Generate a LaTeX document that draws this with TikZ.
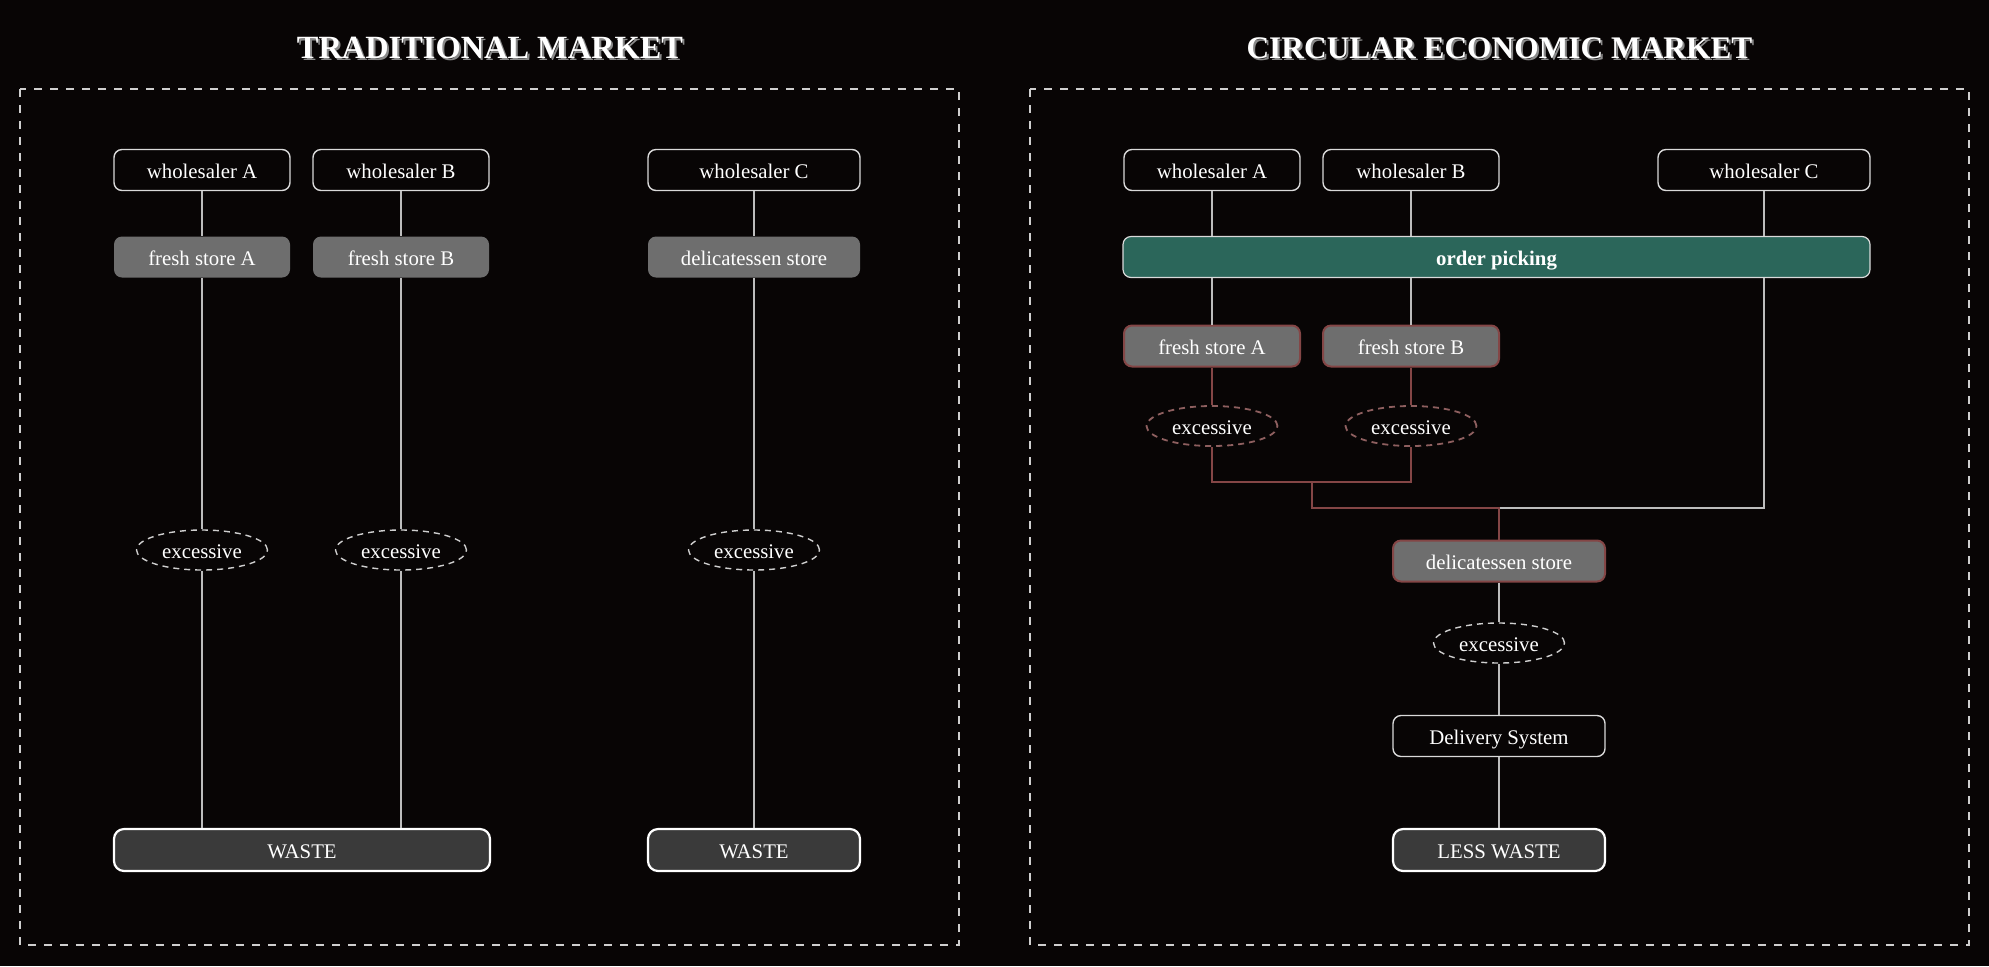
\documentclass[tikz,border=0pt]{standalone}
\usepackage{fontspec}
\setmainfont{Liberation Serif}
\usetikzlibrary{shapes.geometric}
\definecolor{bgc}{HTML}{080505}
\definecolor{linec}{HTML}{BDBDBD}
\definecolor{boxc}{HTML}{DADADA}
\definecolor{freshc}{HTML}{6E6E6E}
\definecolor{wastec}{HTML}{3A3A3A}
\definecolor{tealc}{HTML}{2B665A}
\definecolor{redc}{HTML}{844646}
\definecolor{redd}{HTML}{8E5F5F}
\definecolor{dashc}{HTML}{CFCFCF}
\definecolor{shadc}{HTML}{8A8A8A}
\begin{document}
\begin{tikzpicture}[x=0.5pt,y=-0.5pt,
 every node/.style={font=\fontsize{10.4}{12}\selectfont, text=white, inner sep=0pt, text height=8.1pt, text depth=0pt},
 wbox/.style={draw=boxc, line width=0.7pt, rounded corners=4pt, fill=bgc, minimum height=20.5pt, minimum width=88pt},
 wboxw/.style={wbox, minimum width=106pt},
 fbox/.style={fill=freshc, rounded corners=4pt, minimum height=20.5pt, minimum width=88pt},
 fboxw/.style={fbox, minimum width=106pt},
 fboxr/.style={fbox, draw=redc, line width=1pt},
 fboxrw/.style={fboxr, minimum width=106pt},
 exc/.style={ellipse, draw=dashc, dash pattern=on 3pt off 2.5pt, line width=0.7pt, fill=bgc, minimum width=65.5pt, minimum height=20pt},
 excr/.style={exc, draw=redd, line width=0.9pt},
 wastebox/.style={draw=white, line width=1.1pt, fill=wastec, rounded corners=5pt, minimum height=21pt},
 opbox/.style={draw=boxc, line width=0.6pt, fill=tealc, rounded corners=4pt, minimum height=20.5pt, minimum width=373.5pt, font=\fontsize{10.4}{12}\selectfont\bfseries},
 panel/.style={draw=dashc, dash pattern=on 4pt off 4pt, line width=0.6pt},
 conn/.style={draw=linec, line width=0.75pt},
 rconn/.style={draw=redc, line width=1pt},
 ttl/.style={font=\fontsize{16.2}{18}\selectfont\bfseries, text=white, text height=11pt},
 ttlr/.style={ttl, font=\fontsize{15.7}{18}\selectfont\bfseries},
 ttlsh/.style={ttl, text=shadc},
 ttlrsh/.style={ttlr, text=shadc}
]
\useasboundingbox (0,0) rectangle (1989,966);
\fill[bgc] (0,0) rectangle (1989,966);

% panels
\draw[panel] (20,89) rectangle (959,945);
\draw[panel] (1030,89) rectangle (1969,945);

% titles
\node[ttlsh] (tLs) at (492,49) {TRADITIONAL MARKET};
\node[ttl] (tL) at (490,47) {TRADITIONAL MARKET};
\node[ttlrsh] (tRs) at (1501.5,49) {CIRCULAR ECONOMIC MARKET};
\node[ttlr] (tR) at (1499.5,47) {CIRCULAR ECONOMIC MARKET};

% ---------- left panel ----------
\node[wbox] (lwA) at (202,170) {wholesaler A};
\node[wbox] (lwB) at (401,170) {wholesaler B};
\node[wboxw] (lwC) at (754,170) {wholesaler C};
\node[fbox] (lfA) at (202,257) {fresh store A};
\node[fbox] (lfB) at (401,257) {fresh store B};
\node[fboxw] (ldeli) at (754,257) {delicatessen store};
\node[exc] (lexA) at (202,550) {excessive};
\node[exc] (lexB) at (401,550) {excessive};
\node[exc] (lexC) at (754,550) {excessive};
\node[wastebox, minimum width=188pt] (lwaste1) at (302,850) {WASTE};
\node[wastebox, minimum width=106pt] (lwaste2) at (754,850) {WASTE};

\draw[conn] (lwA) -- (lfA);
\draw[conn] (lwB) -- (lfB);
\draw[conn] (lwC) -- (ldeli);
\draw[conn] (lfA) -- (lexA);
\draw[conn] (lfB) -- (lexB);
\draw[conn] (ldeli) -- (lexC);
\draw[conn] (lexA) -- (lexA |- lwaste1.north);
\draw[conn] (lexB) -- (lexB |- lwaste1.north);
\draw[conn] (lexC) -- (lwaste2);

% ---------- right panel ----------
\node[wbox] (rwA) at (1212,170) {wholesaler A};
\node[wbox] (rwB) at (1411,170) {wholesaler B};
\node[wboxw] (rwC) at (1764,170) {wholesaler C};
\node[opbox] (op) at (1496.5,257) {order picking};
\node[fboxr] (rfA) at (1212,346) {fresh store A};
\node[fboxr] (rfB) at (1411,346) {fresh store B};
\node[excr] (rexA) at (1212,426) {excessive};
\node[excr] (rexB) at (1411,426) {excessive};
\node[fboxrw] (rdeli) at (1499,561) {delicatessen store};
\node[exc] (rexC) at (1499,643) {excessive};
\node[wbox, minimum width=106pt] (deliv) at (1499,736) {Delivery System};
\node[wastebox, minimum width=106pt] (lesswaste) at (1499,850) {LESS WASTE};

\coordinate (j1) at (1312,482);
\coordinate (j2) at (1312,508);

\draw[conn] (rwA) -- (rwA |- op.north);
\draw[conn] (rwB) -- (rwB |- op.north);
\draw[conn] (rwC) -- (rwC |- op.north);
\draw[conn] (rwA |- op.south) -- (rfA);
\draw[conn] (rwB |- op.south) -- (rfB);
\draw[conn] (rwC |- op.south) -- (rwC |- j2) -- (j2 -| rdeli);
\draw[rconn] (rfA) -- (rexA);
\draw[rconn] (rfB) -- (rexB);
\draw[rconn] (rexA) -- (rexA |- j1) -- (rexB |- j1) -- (rexB);
\draw[rconn] (j1) -- (j2) -- (j2 -| rdeli) -- (rdeli);
\draw[conn] (rdeli) -- (rexC);
\draw[conn] (rexC) -- (deliv);
\draw[conn] (deliv) -- (lesswaste);
\end{tikzpicture}
\end{document}
